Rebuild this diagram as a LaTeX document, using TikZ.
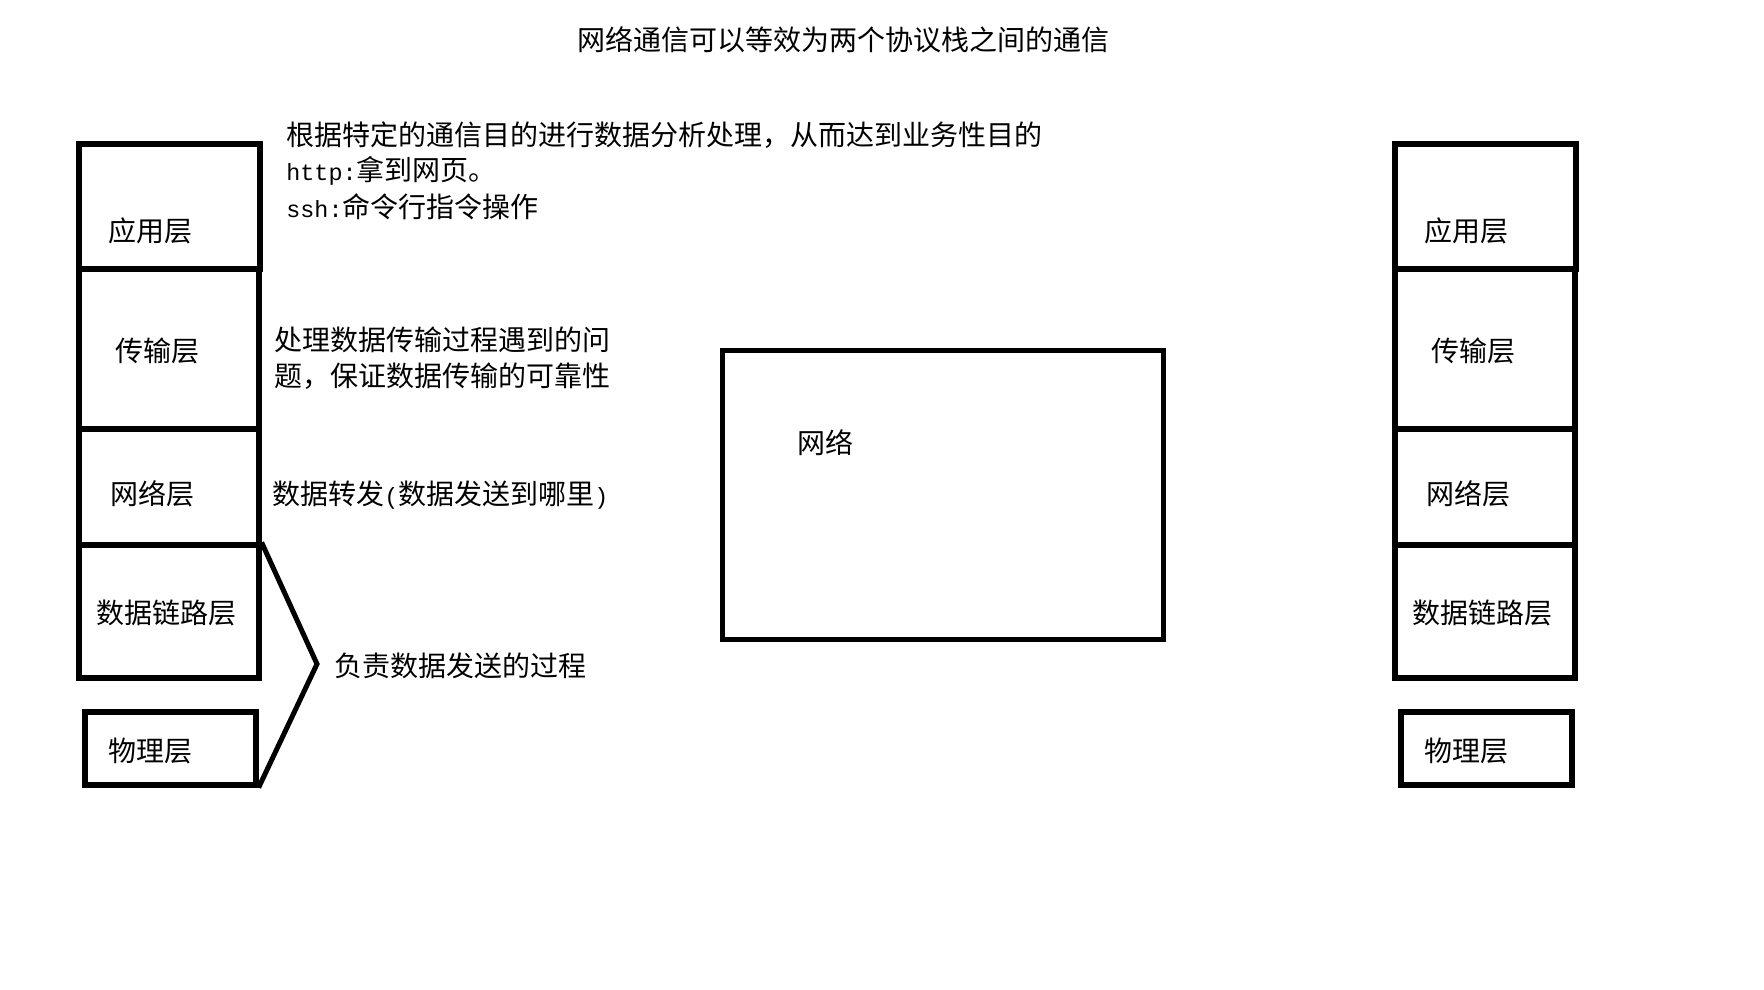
\documentclass[tikz,border=0pt]{standalone}
\usepackage{fontspec}
\setmainfont{Noto Sans CJK SC}
\newfontfamily\latinmono{Liberation Mono}
\newcommand{\lm}[1]{{\latinmono\fontsize{11.7}{18}\selectfont #1}}
\begin{document}
\begin{tikzpicture}[x=0.5pt,y=-0.5pt,
  box/.style={draw=black, line width=2.6pt, inner sep=0pt, rectangle},
  txt/.style={inner sep=0pt, font=\fontsize{14}{18}\selectfont, text=black},
  note/.style={txt, anchor=west, align=left},
  brace/.style={draw=black, line width=2.5pt, line join=miter},
]
\useasboundingbox (0,0) rectangle (1764,989);

% title
\node[txt] (title) at (843,40) {网络通信可以等效为两个协议栈之间的通信};

% two protocol stacks
\foreach \s/\dx in {L/0,R/1316}{
  \begin{scope}[xshift=\dx*0.5pt]
    \node[box, minimum width=90.5pt, minimum height=62.5pt] (app\s) at (169.5,206.5) {};
    \node[box, minimum width=90pt, minimum height=80pt] (tr\s) at (169,349) {};
    \node[box, minimum width=90pt, minimum height=58pt] (nw\s) at (169,487) {};
    \node[box, minimum width=90pt, minimum height=66.5pt] (dl\s) at (169,611.5) {};
    \node[box, minimum width=85.5pt, minimum height=36.5pt] (ph\s) at (170.5,748.5) {};
    \node[txt] (appt\s) at (150,231) {应用层};
    \node[txt] (trt\s) at (157,351) {传输层};
    \node[txt] (nwt\s) at (152,494) {网络层};
    \node[txt] (dlt\s) at (166,613) {数据链路层};
    \node[txt] (pht\s) at (150,751) {物理层};
  \end{scope}
}

% network box
\node[box, line width=2.5pt, minimum width=220.5pt, minimum height=144.5pt] (net) at (942.5,494.5) {};
\node[txt] (nett) at (825,443) {网络};

% annotations
\node[note] (appnote) at (286,135) {根据特定的通信目的进行数据分析处理，从而达到业务性目的};
\node[note] (httpnote) at (286,171) {\lm{http:}拿到网页。};
\node[note] (sshnote) at (286,207) {\lm{ssh:}命令行指令操作};
\node[note] (trnote1) at (274,340) {处理数据传输过程遇到的问};
\node[note] (trnote2) at (274,376) {题，保证数据传输的可靠性};
\node[note] (nwnote) at (272,495) {数据转发\lm{(}数据发送到哪里\lm{)}};
\node[note] (dlnote) at (334,666) {负责数据发送的过程};

% bracket grouping data link + physical
\coordinate (tip) at (317,664);
\draw[brace] (dlL.north east) -- (tip) -- (phL.south east);
\end{tikzpicture}
\end{document}
